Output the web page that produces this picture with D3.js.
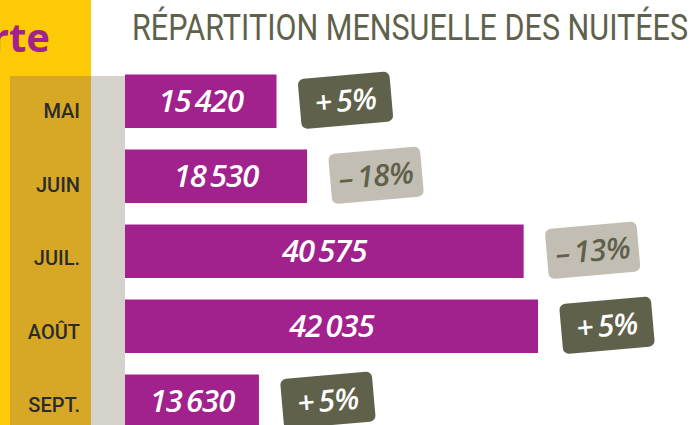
<!DOCTYPE html>
<html>
<head>
<meta charset="utf-8">
<script src="https://cdn.jsdelivr.net/npm/d3@7"></script>
<style>
  html, body { margin: 0; padding: 0; background: #fff; }
  svg { display: block; }
</style>
</head>
<body>
<div id="chart"></div>
<script>
// data
const months = ['MAI', 'JUIN', 'JUIL.', 'AOÛT', 'SEPT.'];
const nights = [15420, 18530, 40575, 42035, 13630];
const changes = [5, -18, -13, 5, 5];
const title = 'RÉPARTITION MENSUELLE DES NUITÉES';
const sideTitle = 'rte';

const width = 695, height = 425;
const colors = {
  yellow: '#fec907',
  gold: '#d6a826',
  grey: '#d5d1cb',
  purple: '#a1218d',
  olive: '#5f614b',
  light: '#c3beb4'
};

const data = months.map((m, i) => ({ key: m, value: nights[i], change: changes[i] }));

const x = d3.scaleLinear()
  .domain([0, d3.max(nights)])
  .range([125, 538]);

const y = d3.scaleBand()
  .domain(months)
  .range([74.5, 428])
  .paddingInner(0.287)
  .paddingOuter(0);

const yLabel = d3.scalePoint()
  .domain(months)
  .range([118, 412]);

const fmt = d3.formatLocale({ decimal: ',', thousands: '\u2009', grouping: [3], currency: ['', ' €'] }).format(',d');
const fmtChange = v => (v < 0 ? '\u2013\u2009' : '+\u2009') + Math.abs(v) + '%';

const svg = d3.create('svg')
  .attr('width', width)
  .attr('height', height)
  .attr('viewBox', [0, 0, width, height]);

// left side panels
svg.append('rect').attr('x', 0).attr('y', 0).attr('width', 91).attr('height', height).attr('fill', colors.yellow);
svg.append('rect').attr('x', 10).attr('y', 76).attr('width', 81).attr('height', height - 76).attr('fill', colors.gold);
svg.append('rect').attr('x', 91).attr('y', 76).attr('width', 34).attr('height', height - 76).attr('fill', colors.grey);

svg.append('text')
  .attr('x', 50)
  .attr('y', 52)
  .attr('text-anchor', 'end')
  .attr('fill', colors.purple)
  .style('font', 'bold 40px "Open Sans", sans-serif')
  .text(sideTitle);

svg.append('text')
  .attr('x', 132)
  .attr('y', 40)
  .attr('fill', colors.olive)
  .attr('textLength', 556)
  .attr('lengthAdjust', 'spacingAndGlyphs')
  .style('font', '400 36px Roboto, sans-serif')
  .text(title);

// month labels
svg.append('g')
  .selectAll('text')
  .data(data)
  .join('text')
  .attr('x', 80)
  .attr('y', d => yLabel(d.key))
  .attr('text-anchor', 'end')
  .attr('fill', '#2b2b2b')
  .style('font', '500 20px Roboto, sans-serif')
  .text(d => d.key);

// bars
const bars = svg.append('g');
bars.selectAll('rect')
  .data(data)
  .join('rect')
  .attr('x', x(0))
  .attr('y', d => y(d.key))
  .attr('width', d => x(d.value) - x(0))
  .attr('height', y.bandwidth())
  .attr('fill', colors.purple);

bars.selectAll('text')
  .data(data)
  .join('text')
  .attr('x', d => (x(0) + x(d.value)) / 2)
  .attr('y', d => y(d.key) + y.bandwidth() / 2 + 11)
  .attr('text-anchor', 'middle')
  .attr('fill', '#fff')
  .style('font', 'italic 600 31px "Open Sans", sans-serif')
  .style('letter-spacing', '-1px')
  .text(d => fmt(d.value));

// change badges
const badge = svg.append('g')
  .selectAll('g')
  .data(data)
  .join('g')
  .attr('transform', d => `translate(${x(d.value) + 69},${y(d.key) + y.bandwidth() / 2 - 1}) rotate(-5)`);

badge.append('rect')
  .attr('x', -46)
  .attr('y', -25)
  .attr('width', 92)
  .attr('height', 50)
  .attr('rx', 6)
  .attr('fill', d => d.change < 0 ? colors.light : colors.olive);

badge.append('text')
  .attr('y', 11)
  .attr('text-anchor', 'middle')
  .attr('fill', d => d.change < 0 ? colors.olive : '#fff')
  .style('font', 'italic 600 30px "Open Sans", sans-serif')
  .style('letter-spacing', '-0.5px')
  .text(d => fmtChange(d.change));

d3.select('#chart').append(() => svg.node());
</script>
</body>
</html>
